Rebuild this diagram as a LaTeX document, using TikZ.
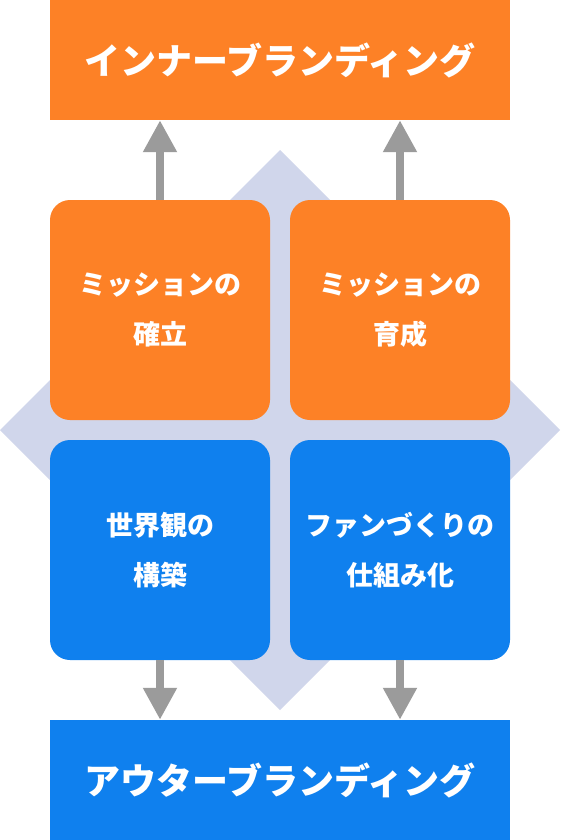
\documentclass[tikz,border=0pt]{standalone}
\usepackage{fontspec}
\newfontfamily\jp{Noto Sans CJK JP}
\usetikzlibrary{arrows.meta}
\definecolor{orng}{HTML}{FD8126}
\definecolor{blu}{HTML}{0F80EE}
\definecolor{dia}{HTML}{D0D6EB}
\definecolor{arrgray}{HTML}{9B9B9B}
\tikzset{
  bar/.style={fill=#1, draw=none, minimum width=460pt, minimum height=120pt, inner sep=0pt,
    text=white, font=\jp\bfseries\fontsize{36pt}{40pt}\selectfont},
  card/.style={fill=#1, draw=none, rounded corners=20pt, minimum width=220pt, minimum height=220pt,
    inner sep=0pt, text=white, align=center, font=\jp\bfseries\fontsize{27pt}{50pt}\selectfont},
  arr/.style={draw=arrgray, line width=8pt, -{Triangle[width=32pt,length=32pt]}, arrgray}
}
\begin{document}
\begin{tikzpicture}[x=1pt,y=-1pt]
\useasboundingbox (0,0) rectangle (560,840);
\coordinate (dt) at (280,150);
\coordinate (dr) at (560,430);
\coordinate (db) at (280,710);
\coordinate (dl) at (0,430);
\fill[dia] (dt) -- (dr) -- (db) -- (dl) -- cycle;
\node[bar=orng] (inner) at (280,60) {インナーブランディング};
\node[bar=blu] (outer) at (280,780) {アウターブランディング};
\node[card=orng] (b1) at (160,310) {ミッションの\\確立};
\node[card=orng] (b2) at (400,310) {ミッションの\\育成};
\node[card=blu] (b3) at (160,550) {世界観の\\構築};
\node[card=blu] (b4) at (400,550) {ファンづくりの\\仕組み化};
\draw[arr] (b1.north) -- (b1.north |- inner.south);
\draw[arr] (b2.north) -- (b2.north |- inner.south);
\draw[arr] (b3.south) -- (b3.south |- outer.north);
\draw[arr] (b4.south) -- (b4.south |- outer.north);
\end{tikzpicture}
\end{document}
